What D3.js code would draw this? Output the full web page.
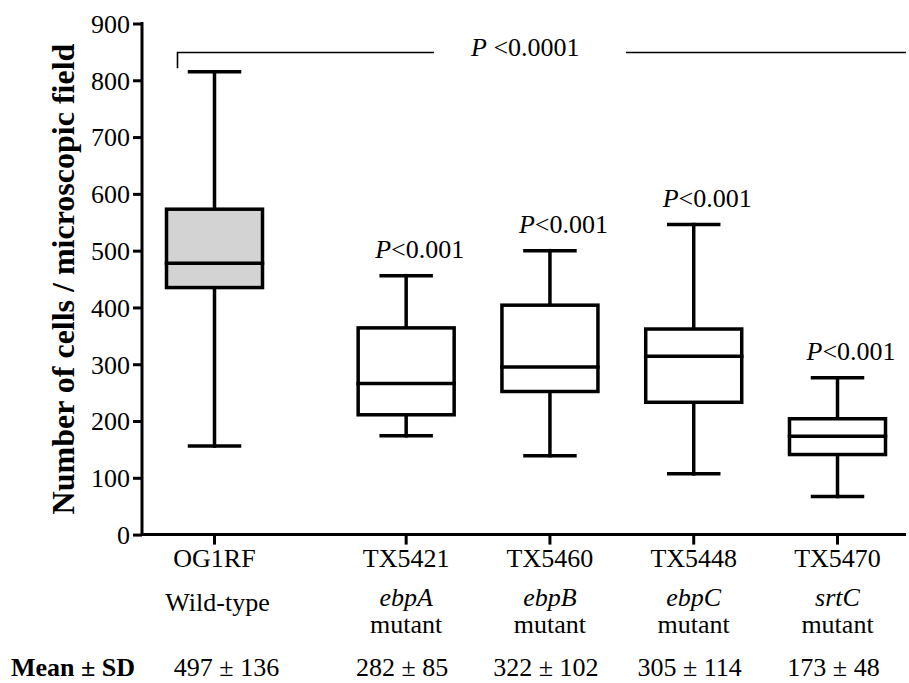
<!DOCTYPE html>
<html>
<head>
<meta charset="utf-8">
<script src="https://cdn.jsdelivr.net/npm/d3@7/dist/d3.min.js"></script>
<style>
  html, body { margin: 0; padding: 0; background: #fff; }
  svg { display: block; }
  svg text { font-family: "Liberation Serif"; fill: #000; }
</style>
</head>
<body>
<svg id="chart" width="909" height="683"></svg>
<script>
// ---- Data ----
const strains   = ["OG1RF", "TX5421", "TX5460", "TX5448", "TX5470"];
const genes     = ["Wild-type", "ebpA", "ebpB", "ebpC", "srtC"];
const whiskerLo = [156, 174, 139, 107, 67];
const q1        = [435, 211, 252, 233, 141];
const medians   = [478, 266, 295, 314, 173];
const q3        = [573, 364, 404, 362, 204];
const whiskerHi = [815, 456, 500, 546, 276];
const meanSD    = ["497 \u00b1 136", "282 \u00b1 85", "322 \u00b1 102", "305 \u00b1 114", "173 \u00b1 48"];
const pLabels   = [null, "<0.001", "<0.001", "<0.001", "<0.001"];
const yTicks    = [0, 100, 200, 300, 400, 500, 600, 700, 800, 900];
const overallP  = "<0.0001";

// ---- Layout ----
const FONT = "Liberation Serif";
const svg = d3.select("#chart").attr("font-family", FONT);
const axisX = 142, axisRight = 906;
const y = d3.scaleLinear().domain([0, 900]).range([534.6, 23.5]);
const gap = 0.333; // extra space between wild-type and mutants
const slot = i => i + (i > 0 ? gap : 0);
const x = d3.scaleLinear().domain([0, 4 + gap]).range([214.5, 837.5]);
const boxW = 96, capW = 50, sw = 3.5;
const fs = 26;

const txt = (sel) => sel.append("text").attr("font-family", FONT).style("font-family", FONT).style("font-size", fs + "px");

// ---- Y axis ----
const yAxis = d3.axisLeft(y).tickValues(yTicks).tickSize(9).tickPadding(3).tickFormat(d3.format("d"));
const gy = svg.append("g").attr("transform", `translate(${axisX},0)`).call(yAxis);
gy.attr("font-family", FONT);
gy.select(".domain").remove();
gy.selectAll(".tick line").attr("stroke", "#000").attr("stroke-width", 3);
gy.selectAll(".tick text").style("font-size", fs + "px").style("font-family", FONT).attr("dy", "0.34em");
svg.append("line").attr("x1", axisX).attr("x2", axisX).attr("y1", y(900) - 1.5).attr("y2", y(0) + 1.5)
  .attr("stroke", "#000").attr("stroke-width", 3);

// ---- X axis ----
svg.append("line").attr("x1", axisX).attr("x2", axisRight).attr("y1", y(0)).attr("y2", y(0))
  .attr("stroke", "#000").attr("stroke-width", 3);
strains.forEach((s, i) => {
  svg.append("line").attr("x1", x(slot(i))).attr("x2", x(slot(i)))
    .attr("y1", y(0)).attr("y2", y(0) + 10).attr("stroke", "#000").attr("stroke-width", 3);
});

// ---- Y title ----
txt(svg)
  .attr("transform", `translate(73.5,${(y(0) + y(900)) / 2}) rotate(-90)`)
  .attr("text-anchor", "middle")
  .style("font-size", "32px").style("font-weight", "bold")
  .text("Number of cells / microscopic field");

// ---- Boxes ----
const g = svg.append("g");
strains.forEach((s, i) => {
  const cx = x(slot(i));
  const line = (x1, y1, x2, y2) => g.append("line").attr("x1", x1).attr("y1", y1).attr("x2", x2).attr("y2", y2)
    .attr("stroke", "#000").attr("stroke-width", sw).attr("stroke-linecap", "square");
  line(cx, y(whiskerHi[i]), cx, y(q3[i]));
  line(cx, y(q1[i]), cx, y(whiskerLo[i]));
  line(cx - capW / 2, y(whiskerHi[i]), cx + capW / 2, y(whiskerHi[i]));
  line(cx - capW / 2, y(whiskerLo[i]), cx + capW / 2, y(whiskerLo[i]));
  g.append("rect").attr("x", cx - boxW / 2).attr("y", y(q3[i]))
    .attr("width", boxW).attr("height", y(q1[i]) - y(q3[i]))
    .attr("fill", i === 0 ? "#d3d3d3" : "#fff").attr("stroke", "#000").attr("stroke-width", sw);
  line(cx - boxW / 2, y(medians[i]), cx + boxW / 2, y(medians[i]));

  if (pLabels[i]) {
    const t = txt(svg).attr("x", cx - 31).attr("y", y(whiskerHi[i]) - 18);
    t.append("tspan").style("font-style", "italic").text("P");
    t.append("tspan").text(pLabels[i]);
  }

  // category labels
  txt(svg).attr("x", cx).attr("y", 567).attr("text-anchor", "middle").text(s);
  if (i === 0) {
    txt(svg).attr("x", cx + 3).attr("y", 611).attr("text-anchor", "middle").text(genes[i]);
  } else {
    txt(svg).attr("x", cx).attr("y", 606).attr("text-anchor", "middle")
      .style("font-style", "italic").text(genes[i]);
    txt(svg).attr("x", cx).attr("y", 633).attr("text-anchor", "middle").text("mutant");
  }
  txt(svg).attr("x", cx + (i === 0 ? 12 : -4)).attr("y", 676).attr("text-anchor", "middle").text(meanSD[i]);
});

txt(svg).attr("x", 11).attr("y", 676).style("font-weight", "bold").text("Mean \u00b1 SD");

// ---- Overall bracket ----
const bY = y(849), bDrop = y(821);
svg.append("path")
  .attr("d", `M${x(0) - 37},${bDrop} V${bY} H434`)
  .attr("fill", "none").attr("stroke", "#000").attr("stroke-width", 1.6);
svg.append("line").attr("x1", 626).attr("x2", axisRight).attr("y1", bY).attr("y2", bY)
  .attr("stroke", "#000").attr("stroke-width", 1.6);
const tp = txt(svg).attr("x", 471).attr("y", 56);
tp.append("tspan").style("font-style", "italic").text("P");
tp.append("tspan").text(" " + overallP);
</script>
</body>
</html>
